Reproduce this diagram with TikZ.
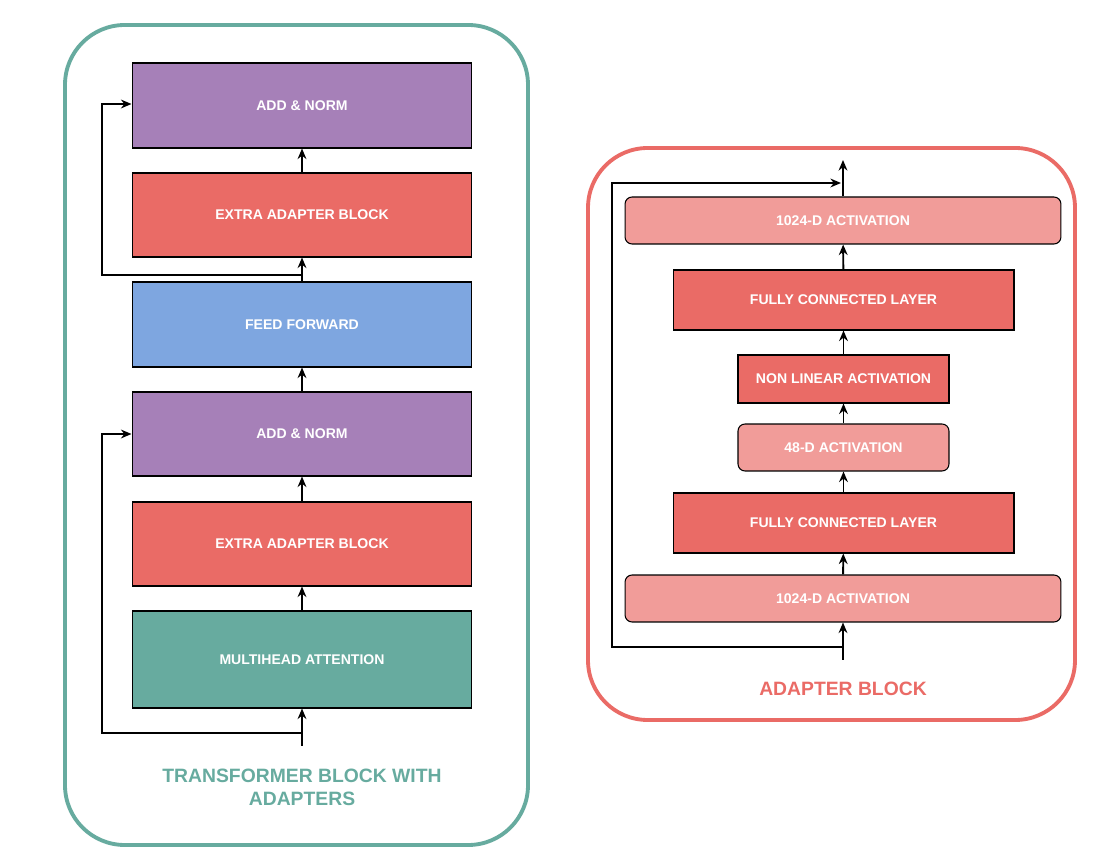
\documentclass[tikz,border=0pt]{standalone}
\usepackage{fontspec}
\setmainfont{Liberation Sans}
\usetikzlibrary{arrows.meta}
\definecolor{teal1}{HTML}{67AB9F}
\definecolor{purp}{HTML}{A680B8}
\definecolor{red1}{HTML}{EA6B66}
\definecolor{blue1}{HTML}{7EA6E0}
\definecolor{lred}{HTML}{F19C99}
\begin{document}
\begin{tikzpicture}[x=0.02cm,y=-0.02cm,
  box/.style={draw=black,line width=0.6pt,text=white,font=\bfseries\fontsize{8}{9}\selectfont,inner sep=0pt},
  arr/.style={line width=1.1pt,-{Stealth[length=6pt,width=5pt]}},
  ln/.style={line width=1.1pt}]
\useasboundingbox (0,0) rectangle (1120,864);
\draw[teal1,line width=2.2pt,rounded corners=34pt] (65,25) rectangle (528,845);
\draw[red1,line width=2.2pt,rounded corners=34pt] (588,148) rectangle (1075,720);
% left boxes
\node[box,fill=purp,minimum width=6.8cm,minimum height=1.7cm] (an2) at (302,105.5) {ADD \& NORM};
\node[box,fill=red1,minimum width=6.8cm,minimum height=1.68cm] (ea2) at (302,215) {EXTRA ADAPTER BLOCK};
\node[box,fill=blue1,minimum width=6.8cm,minimum height=1.7cm] (ff) at (302,324.5) {FEED FORWARD};
\node[box,fill=purp,minimum width=6.8cm,minimum height=1.68cm] (an1) at (302,434) {ADD \& NORM};
\node[box,fill=red1,minimum width=6.8cm,minimum height=1.68cm] (ea1) at (302,544) {EXTRA ADAPTER BLOCK};
\node[box,fill=teal1,minimum width=6.8cm,minimum height=1.94cm] (mh) at (302,659.5) {MULTIHEAD ATTENTION};
\coordinate (in1) at (302,746);
\coordinate (s1) at (302,733);
\coordinate (s2) at (302,275);
\draw[arr] (in1) -- (mh);
\draw[arr] (mh) -- (ea1);
\draw[arr] (ea1) -- (an1);
\draw[arr] (an1) -- (ff);
\draw[arr] (ff) -- (ea2);
\draw[arr] (ea2) -- (an2);
\draw[arr] (s1) -- (102,733) -- (102,434) -- (an1.west);
\draw[arr] (s2) -- (102,275) -- (102,104) -- (an2.west|-102,104);
\node[teal1,font=\bfseries\fontsize{11}{13}\selectfont,align=center] (t1) at (302,787) {TRANSFORMER BLOCK WITH\\ADAPTERS};
% right boxes
\node[box,fill=lred,rounded corners=4pt,minimum width=8.72cm,minimum height=0.94cm] (a1) at (843,598.5) {1024-D ACTIVATION};
\node[box,fill=red1,minimum width=6.82cm,minimum height=1.2cm] (fc1) at (843.5,523) {FULLY CONNECTED LAYER};
\node[box,fill=lred,rounded corners=4pt,minimum width=4.22cm,minimum height=0.94cm] (a48) at (843.5,447.5) {48-D ACTIVATION};
\node[box,fill=red1,minimum width=4.22cm,minimum height=0.96cm] (nl) at (843.5,379) {NON LINEAR ACTIVATION};
\node[box,fill=red1,minimum width=6.82cm,minimum height=1.2cm] (fc2) at (843.5,300) {FULLY CONNECTED LAYER};
\node[box,fill=lred,rounded corners=4pt,minimum width=8.72cm,minimum height=0.94cm] (a2) at (843,220.5) {1024-D ACTIVATION};
\coordinate (in2) at (843,660);
\coordinate (s3) at (843,647);
\coordinate (out) at (843,160);
\draw[arr] (in2) -- (a1);
\draw[arr] (a1) -- (fc1);
\draw[arr] (fc1) -- (a48);
\draw[arr] (a48) -- (nl);
\draw[arr] (nl) -- (fc2);
\draw[arr] (fc2) -- (a2);
\draw[arr] (a2) -- (out);
\draw[arr] (s3) -- (612,647) -- (612,183) -- (841,183);
\node[red1,font=\bfseries\fontsize{11}{13}\selectfont] (t2) at (843,689) {ADAPTER BLOCK};
\end{tikzpicture}
\end{document}
